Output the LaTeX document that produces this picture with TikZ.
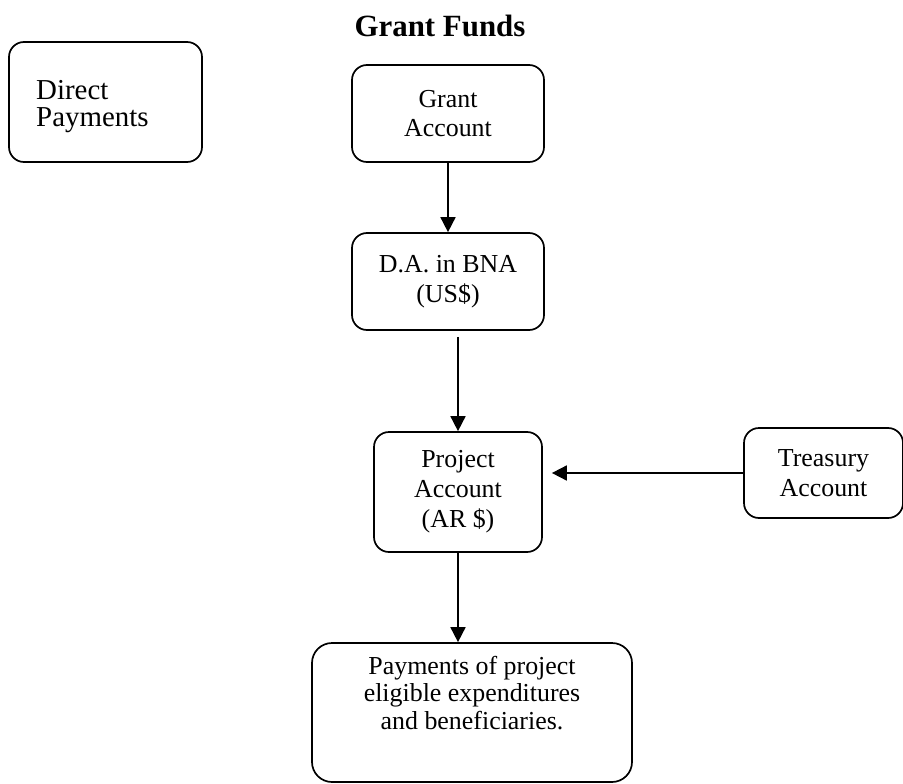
\documentclass[tikz,border=0pt]{standalone}
\usepackage{fontspec}
\setmainfont{Liberation Serif}
\usetikzlibrary{arrows.meta,calc}
\tikzset{
  box/.style={draw, line width=1.7bp, rounded corners=15bp, inner sep=0pt, align=center,
    font=\fontsize{26}{30}\selectfont},
  txt/.style={inner sep=0pt, align=center, font=\fontsize{26}{28}\selectfont},
  arr/.style={line width=1.7bp, -{Triangle[length=15bp,width=15bp]}},
}
\begin{document}
\begin{tikzpicture}[x=1bp,y=-1bp]
\useasboundingbox (0,0) rectangle (903,784);
\node[font=\fontsize{31}{34}\selectfont\bfseries, anchor=base, inner sep=0pt] (title) at (440,37) {Grant Funds};
\node[box, minimum width=193bp, minimum height=120bp] (direct) at (105.5,102) {};
\node[inner sep=0pt, align=left, anchor=west, font=\fontsize{29}{27}\selectfont] (directtxt) at (36,107) {Direct\\Payments};
\node[box, minimum width=192bp, minimum height=97bp] (grant) at (448,113.5) {Grant\\Account};
\node[box, minimum width=192bp, minimum height=97bp] (da) at (448,281.5) {D.A. in BNA\\(US\$)};
\node[box, minimum width=168bp, minimum height=120bp] (proj) at (458,492) {Project\\Account\\(AR \$)};
\node[box, minimum width=159bp, minimum height=90bp] (treas) at (823.5,473) {Treasury\\Account};
\node[box, rounded corners=20bp, minimum width=320bp, minimum height=139bp] (pay) at (472,712.5) {};
\node[txt] (paytxt) at (472,693) {Payments of project\\eligible expenditures\\and beneficiaries.};
\draw[arr] (grant.south) -- (da.north);
\draw[arr, shorten <=6bp] (proj.north |- da.south) -- (proj.north);
\draw[arr, shorten >=9bp] (treas.west) -- (treas.west -| proj.east);
\draw[arr] (proj.south) -- (proj.south |- pay.north);
\end{tikzpicture}
\end{document}
